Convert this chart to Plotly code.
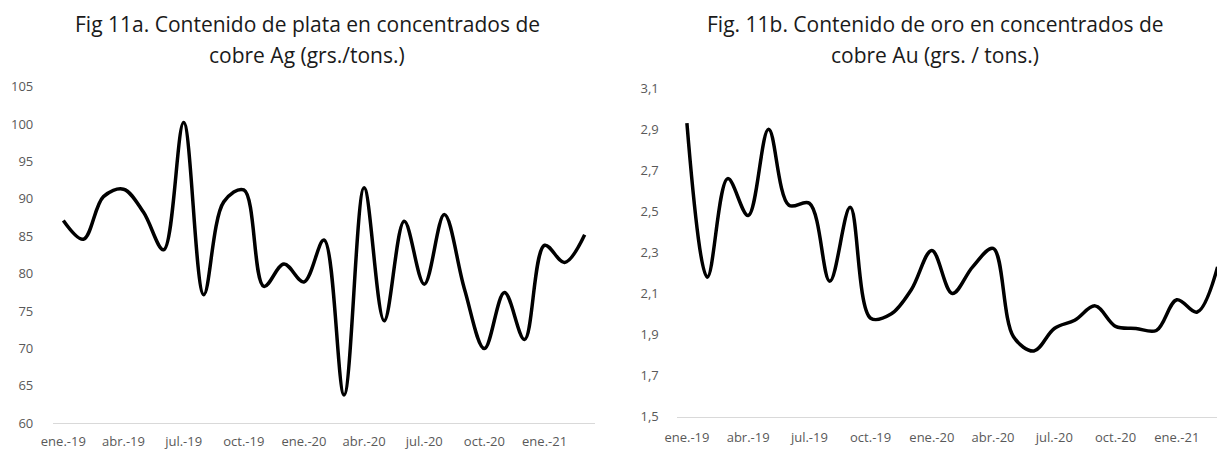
import plotly.graph_objects as go

months = ["ene.-19", "feb.-19", "mar.-19", "abr.-19", "may.-19", "jun.-19", "jul.-19", "ago.-19", "sep.-19",
          "oct.-19", "nov.-19", "dic.-19", "ene.-20", "feb.-20", "mar.-20", "abr.-20", "may.-20", "jun.-20",
          "jul.-20", "ago.-20", "sep.-20", "oct.-20", "nov.-20", "dic.-20", "ene.-21", "feb.-21", "mar.-21"]

plata_ag = [87.1, 84.6, 90.3, 91.3, 88.2, 83.2, 100.2, 77.2, 89.6, 91.2, 78.3, 81.3, 78.9, 84.5,
            63.8, 91.5, 73.7, 87.0, 78.6, 87.9, 78.0, 70.0, 77.5, 71.2, 83.8, 81.5, 85.2]

oro_au = [2.93, 2.18, 2.66, 2.48, 2.90, 2.53, 2.54, 2.16, 2.52, 1.98, 2.00, 2.12, 2.31, 2.10,
          2.23, 2.32, 1.89, 1.82, 1.93, 1.97, 2.04, 1.94, 1.93, 1.92, 2.07, 2.01, 2.23]

tick_months = ["ene.-19", "abr.-19", "jul.-19", "oct.-19", "ene.-20", "abr.-20", "jul.-20", "oct.-20", "ene.-21"]

title_a = ["Fig 11a. Contenido de plata en concentrados de", "cobre Ag (grs./tons.)"]
title_b = ["Fig. 11b. Contenido de oro en concentrados de", "cobre Au (grs. / tons.)"]

W, H = 1217, 449
FONT = "Open Sans"
TICK_COLOR = "#595959"
AXIS_COLOR = "#d9d9d9"
TITLE_COLOR = "#1a1a1a"

x_idx = list(range(len(months)))
tickvals = [months.index(m) for m in tick_months]

fig = go.Figure()
fig.add_trace(go.Scatter(x=x_idx, y=plata_ag, mode="lines", xaxis="x", yaxis="y",
                         line=dict(color="black", width=3.5, shape="spline", smoothing=1.0),
                         text=months, hovertemplate="%{text}: %{y}<extra></extra>"))
fig.add_trace(go.Scatter(x=x_idx, y=oro_au, mode="lines", xaxis="x2", yaxis="y2",
                         line=dict(color="black", width=3.5, shape="spline", smoothing=1.0),
                         text=months, hovertemplate="%{text}: %{y}<extra></extra>"))


def px_x(p):
    return min(1.0, p / W)


def px_y(p):
    return 1 - p / H


tickfont = dict(family=FONT, size=13, color=TICK_COLOR)
common_x = dict(tickvals=tickvals, ticktext=tick_months, tickfont=tickfont,
                showgrid=False, zeroline=False, showline=True, linecolor=AXIS_COLOR, linewidth=1,
                ticks="", automargin=False, fixedrange=True)
common_y = dict(tickfont=tickfont, showgrid=False, zeroline=False, showline=False,
                ticks="", automargin=False, fixedrange=True)

annotations = []
for lines, cx in ((title_a, 307), (title_b, 935)):
    for text, cy in zip(lines, (24, 55)):
        annotations.append(dict(text=text, x=px_x(cx), y=px_y(cy), xref="paper", yref="paper",
                                xanchor="center", yanchor="middle", showarrow=False,
                                font=dict(family=FONT, size=21, color=TITLE_COLOR)))

fig.update_layout(
    width=W, height=H,
    autosize=False,
    margin=dict(l=0, r=0, t=0, b=0, pad=0),
    paper_bgcolor="white", plot_bgcolor="white",
    showlegend=False,
    separators=", ",
    xaxis=dict(domain=[px_x(53.3), px_x(594.7)], range=[-0.5, 26.5], anchor="y",
               ticklabelstandoff=6, **common_x),
    yaxis=dict(domain=[px_y(423.3), px_y(86.7)], range=[60, 105], tick0=60, dtick=5,
               ticklabelstandoff=19, anchor="x", **common_y),
    xaxis2=dict(domain=[px_x(676.7), 1.0], range=[-0.5, 25.97], anchor="y2",
                ticklabelstandoff=9, **common_x),
    yaxis2=dict(domain=[px_y(416.7), px_y(88.3)], range=[1.5, 3.1], tick0=1.5, dtick=0.2,
                tickformat=".1f", ticklabelstandoff=17, anchor="x2", **common_y),
    annotations=annotations,
)

# Remove the browser's default 8px body margin so the figure fills the window exactly.
fig.write_html(
    "out.html",
    config={"displayModeBar": False},
    post_script="document.body.style.margin='0';document.body.style.overflow='hidden';",
)
